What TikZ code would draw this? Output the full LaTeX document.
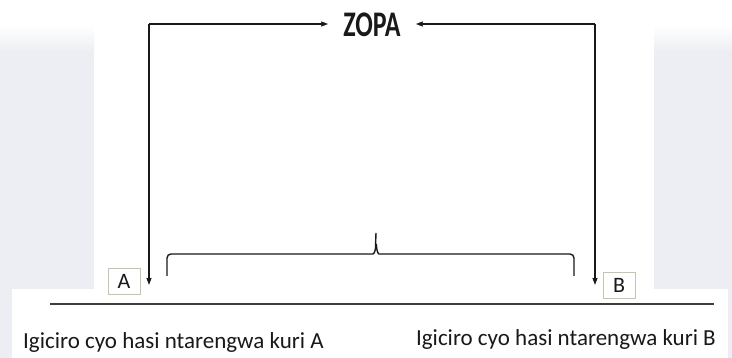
\documentclass[tikz,border=0pt]{standalone}
\usepackage{fontspec}
\usetikzlibrary{arrows.meta}
\newfontfamily\labelfont{Carlito}
\newfontfamily\titlefont[FakeStretch=0.72]{Carlito}
\definecolor{slidegrey}{RGB}{237,238,243}
\definecolor{ink}{RGB}{25,25,25}
\definecolor{boxedge}{RGB}{190,200,170}

\begin{document}
\begin{tikzpicture}[x=1pt,y=-1pt,
  conn/.style={draw=ink,line width=1.4pt,-{Stealth[length=7pt,width=5pt,inset=0.5pt]}},
  bracepath/.style={draw=ink,line width=1.4pt,rounded corners=4pt},
  tag/.style={draw=boxedge,line width=0.8pt,minimum width=32pt,minimum height=26pt,inner sep=0pt,
    font=\labelfont\fontsize{22}{22}\selectfont,text=ink},
  caption/.style={font=\labelfont\fontsize{23}{23}\selectfont,text=ink,inner sep=0pt},
]
\useasboundingbox (0,0) rectangle (732,358);

% slide background: grey side panels fading in from the top
\fill[white] (0,0) rectangle (732,358);
\shade[top color=white,bottom color=slidegrey] (0,25) rectangle (94,52);
\fill[slidegrey] (0,52) rectangle (94,358);
\shade[top color=white,bottom color=slidegrey] (654,25) rectangle (732,52);
\fill[slidegrey] (654,52) rectangle (732,358);
% white band under the axis
\fill[white] (12,289) rectangle (728,358);

% title
\node[font=\titlefont\bfseries\fontsize{36}{36}\selectfont,text=ink,inner ysep=0pt,inner xsep=15pt,anchor=base]
  (zopa) at (372,37) {ZOPA};

% corner points and arrow ends
\coordinate (cl) at (149,24);
\coordinate (cr) at (595,24);
\coordinate (atip) at (149,285);
\coordinate (btip) at (595,285);

\draw[conn] (cl) -- (cl -| zopa.west);
\draw[conn] (cl) -- (atip);
\draw[conn] (cr) -- (cr -| zopa.east);
\draw[conn] (cr) -- (btip);

% point labels
\node[tag] (boxA) at (124,281) {A};
\node[tag] (boxB) at (619,285.5) {B};

% axis
\coordinate (axisL) at (50,304);
\coordinate (axisR) at (714,304);
\draw[line width=2pt,color=ink!85] (axisL) -- (axisR);

% brace over the zone
\draw[bracepath] (167,276) -- (167,254) -- (369,254)
  .. controls (374,254) and (375.6,250) .. (375.6,244) -- (376,233);
\draw[bracepath] (376.4,244) .. controls (376.4,250) and (378,254) .. (383,254)
  -- (574,254) -- (574,276);

% captions
\node[caption,anchor=base west] (capA) at (23,349) {Igiciro cyo hasi ntarengwa kuri A};
\node[caption,anchor=base east] (capB) at (716,346) {Igiciro cyo hasi ntarengwa kuri B};
\end{tikzpicture}
\end{document}
